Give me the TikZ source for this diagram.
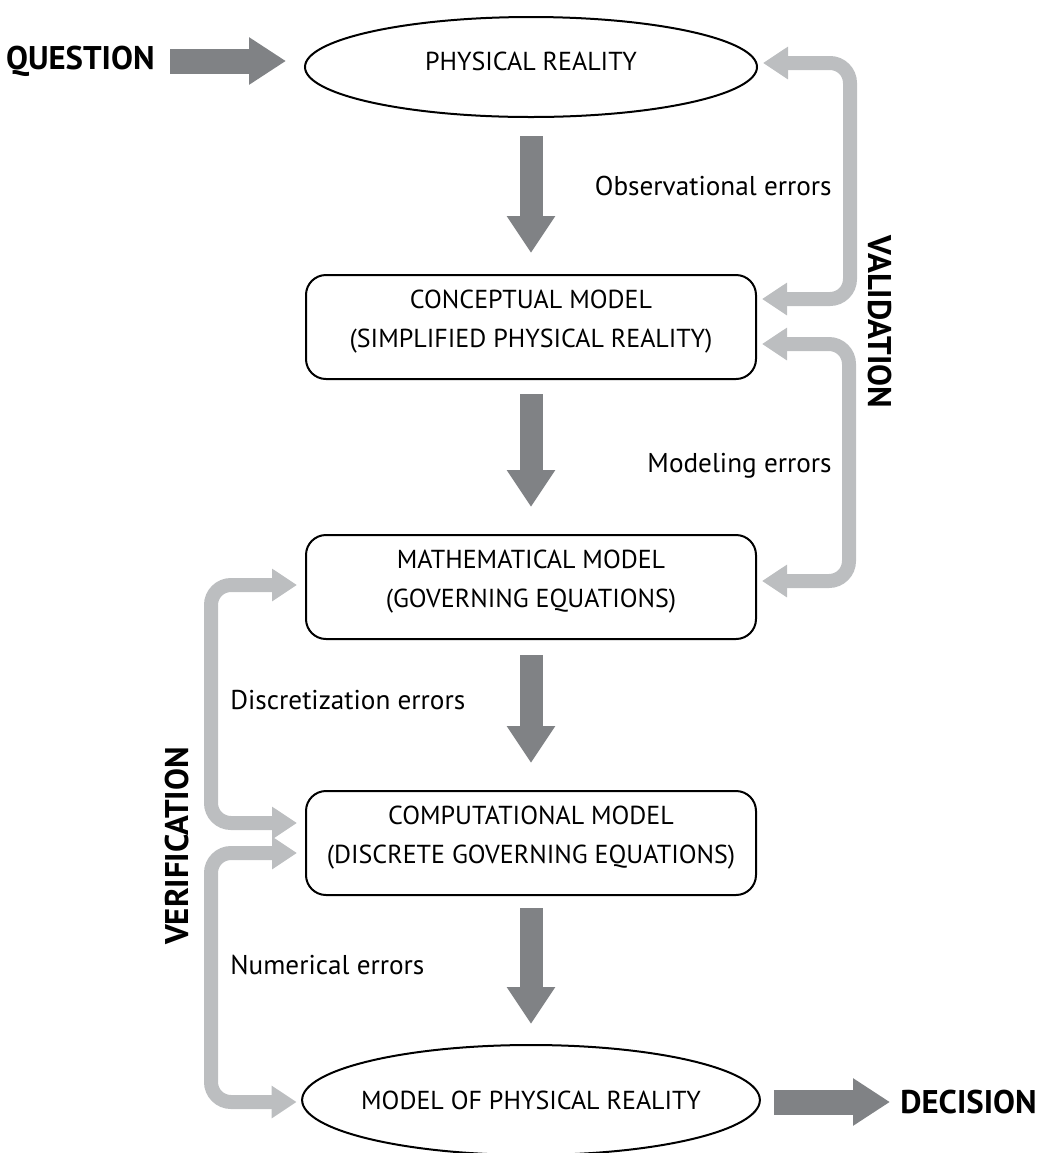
\documentclass[tikz,border=0pt]{standalone}
\usepackage{fontspec}
\setmainfont{PT Sans}
\usetikzlibrary{arrows.meta,positioning,shapes.geometric}

\definecolor{flowgray}{HTML}{808285}
\definecolor{loopgray}{HTML}{BCBEC0}

\tikzset{
  stage/.style={draw=black, line width=1pt, align=center, rounded corners=10pt,
    minimum width=225pt, minimum height=52pt, text depth=8.5pt,
    font=\fontsize{13}{19.5}\selectfont},
  reality/.style={draw=black, line width=1pt, ellipse, align=center,
    minimum width=226pt, minimum height=50pt, font=\fontsize{13}{19.5}\selectfont},
  errlabel/.style={inner sep=0pt, font=\fontsize{13.6}{16}\selectfont},
  keyword/.style={inner sep=0pt, font=\bfseries\fontsize{16.4}{19}\selectfont},
  flow/.style={flowgray, line width=11.5pt, -{Triangle[width=23pt,length=18.5pt]}},
  sideflow/.style={flowgray, line width=12.5pt, -{Triangle[width=22.5pt,length=18.5pt]}},
  loop/.style={loopgray, line width=7pt, rounded corners=10pt,
    {Triangle[width=15.5pt,length=12.5pt]}-{Triangle[width=15.5pt,length=12.5pt]}}
}

\begin{document}
\begin{tikzpicture}[x=0.5pt, y=-0.5pt, node distance=78pt]
\useasboundingbox (0,0) rectangle (1039,1153);

% the modelling chain
\node[reality, text depth=6pt] (phys) at (531,67) {PHYSICAL REALITY};
\node[stage, below=of phys] (concept) {CONCEPTUAL MODEL\\(SIMPLIFIED PHYSICAL REALITY)};
\node[stage, below=77pt of concept] (math) {MATHEMATICAL MODEL\\(GOVERNING EQUATIONS)};
\node[stage, below=75pt of math] (comp) {COMPUTATIONAL MODEL\\(DISCRETE GOVERNING EQUATIONS)};
\node[reality, below=74pt of comp, inner xsep=-4pt, minimum width=228.5pt, minimum height=55pt] (outcome) {MODEL OF PHYSICAL REALITY};

% in and out
\node[keyword, anchor=east] (question) at (155,61) {QUESTION};
\node[keyword, anchor=west] (decision) at (900,1102) {DECISION};
\node[keyword, rotate=-90] (validation) at (880,322) {VALIDATION};
\node[keyword, rotate=90] (verification) at (177,846) {VERIFICATION};

% error sources
\node[errlabel, anchor=mid east] (obs) at (832,190) {Observational errors};
\node[errlabel, anchor=mid east] (modl) at (832,467) {Modeling errors};
\node[errlabel, anchor=mid west] (discr) at (230,704) {Discretization errors};
\node[errlabel, anchor=mid west] (numer) at (230,969) {Numerical errors};

% main arrows
\draw[flow, shorten <=9pt, shorten >=10.5pt] (phys) -- (concept);
\draw[flow, shorten <=7pt, shorten >=13.5pt] (concept) -- (math);
\draw[flow, shorten <=7.5pt, shorten >=13.5pt] (math) -- (comp);
\draw[flow, shorten <=6pt, shorten >=10pt] (comp) -- (outcome);
\draw[sideflow, shorten <=7.5pt, shorten >=9pt] (question.east) -- (question.east -| phys.west);
\draw[sideflow, shorten <=6.5pt, shorten >=5pt] (decision.west -| outcome.east) -- (decision.west);

% validation loops
\draw[loop] ([xshift=2.5pt,yshift=2pt]phys.east) -- ++(43.5pt,0) |- ([xshift=2.5pt,yshift=14pt]concept.east);
\draw[loop] ([xshift=2.5pt,yshift=-8.5pt]concept.east) -- ++(43.5pt,0) |- ([xshift=2.5pt,yshift=3pt]math.east);

% verification loops
\draw[loop] ([xshift=-4pt,yshift=1pt]math.west) -- ++(-43pt,0) |- ([xshift=-4pt,yshift=10pt]comp.west);
\draw[loop] ([xshift=-4pt,yshift=-5pt]comp.west) -- ++(-43pt,0) |- ([xshift=-2.25pt,yshift=-1pt]outcome.west);
\end{tikzpicture}
\end{document}
